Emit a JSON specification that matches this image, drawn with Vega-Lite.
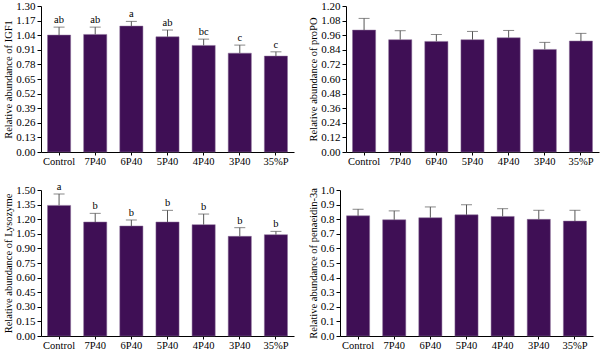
{
  "$schema": "https://vega.github.io/schema/vega-lite/v6.json",
  "padding": {"left": 3, "top": 0, "right": 2, "bottom": 0},
  "background": "white",
  "spacing": 14,
  "datasets": {
    "igf1": [
      {"group": "Control", "mean": 1.041, "upper": 1.112, "sig": "ab"},
      {"group": "7P40", "mean": 1.047, "upper": 1.112, "sig": "ab"},
      {"group": "6P40", "mean": 1.121, "upper": 1.163, "sig": "a"},
      {"group": "5P40", "mean": 1.026, "upper": 1.086, "sig": "ab"},
      {"group": "4P40", "mean": 0.949, "upper": 1.005, "sig": "bc"},
      {"group": "3P40", "mean": 0.880, "upper": 0.952, "sig": "c"},
      {"group": "35%P", "mean": 0.854, "upper": 0.892, "sig": "c"}
    ],
    "propo": [
      {"group": "Control", "mean": 1.002, "upper": 1.098, "sig": ""},
      {"group": "7P40", "mean": 0.923, "upper": 0.997, "sig": ""},
      {"group": "6P40", "mean": 0.909, "upper": 0.966, "sig": ""},
      {"group": "5P40", "mean": 0.923, "upper": 0.991, "sig": ""},
      {"group": "4P40", "mean": 0.939, "upper": 0.999, "sig": ""},
      {"group": "3P40", "mean": 0.843, "upper": 0.901, "sig": ""},
      {"group": "35%P", "mean": 0.912, "upper": 0.975, "sig": ""}
    ],
    "lyso": [
      {"group": "Control", "mean": 1.342, "upper": 1.459, "sig": "a"},
      {"group": "7P40", "mean": 1.171, "upper": 1.260, "sig": "b"},
      {"group": "6P40", "mean": 1.130, "upper": 1.192, "sig": "b"},
      {"group": "5P40", "mean": 1.171, "upper": 1.291, "sig": "b"},
      {"group": "4P40", "mean": 1.144, "upper": 1.253, "sig": "b"},
      {"group": "3P40", "mean": 1.024, "upper": 1.113, "sig": "b"},
      {"group": "35%P", "mean": 1.041, "upper": 1.075, "sig": "b"}
    ],
    "pen": [
      {"group": "Control", "mean": 0.823, "upper": 0.868, "sig": ""},
      {"group": "7P40", "mean": 0.796, "upper": 0.857, "sig": ""},
      {"group": "6P40", "mean": 0.810, "upper": 0.884, "sig": ""},
      {"group": "5P40", "mean": 0.830, "upper": 0.899, "sig": ""},
      {"group": "4P40", "mean": 0.819, "upper": 0.872, "sig": ""},
      {"group": "3P40", "mean": 0.799, "upper": 0.861, "sig": ""},
      {"group": "35%P", "mean": 0.787, "upper": 0.861, "sig": ""}
    ]
  },
  "config": {
    "view": {"stroke": null},
    "font": "Liberation Serif",
    "axis": {
      "labelFont": "Liberation Serif",
      "titleFont": "Liberation Serif",
      "titleFontSize": 10.5,
      "titleFontWeight": "normal",
      "labelColor": "#000",
      "titleColor": "#000",
      "domainColor": "#000",
      "tickColor": "#000",
      "labelOverlap": false,
      "grid": false
    },
    "axisX": {"tickSize": 3, "labelAngle": 0, "labelPadding": 1, "labelFontSize": 10.5, "title": null},
    "axisY": {"tickSize": 4, "titlePadding": 2, "labelPadding": 2, "labelFontSize": 11, "labelOverlap": false, "labelFlush": false}
  },
  "vconcat": [
    {
      "spacing": 14,
      "hconcat": [
        {
          "width": 253, "height": 146,
          "data": {"name": "igf1"},
          "encoding": {
            "x": {"field": "group", "type": "nominal", "sort": null, "scale": {"paddingInner": 0.36, "paddingOuter": 0.18}}
          },
          "layer": [
            {"mark": {"type": "bar", "color": "#3f0f55", "stroke": "#8a6f99", "strokeWidth": 0.5},
             "encoding": {"y": {"field": "mean", "type": "quantitative", "title": "Relative abundance of IGF1", "scale": {"domain": [0, 1.3], "nice": false}, "axis": {"values": [0, 0.13, 0.26, 0.39, 0.52, 0.65, 0.78, 0.91, 1.04, 1.17, 1.3], "format": ".2f"}}}},
            {"mark": {"type": "rule", "color": "#555", "strokeWidth": 1}, "encoding": {"y": {"field": "mean", "type": "quantitative", "title": "Relative abundance of IGF1", "axis": {"values": [0, 0.13, 0.26, 0.39, 0.52, 0.65, 0.78, 0.91, 1.04, 1.17, 1.3], "format": ".2f"}}, "y2": {"field": "upper"}}},
            {"mark": {"type": "tick", "color": "#555", "size": 11, "thickness": 1}, "encoding": {"y": {"field": "upper", "type": "quantitative", "title": "Relative abundance of IGF1", "axis": {"values": [0, 0.13, 0.26, 0.39, 0.52, 0.65, 0.78, 0.91, 1.04, 1.17, 1.3], "format": ".2f"}}}},
            {"mark": {"type": "text", "fontSize": 10.5, "dy": -7, "fill": "#000", "font": "Liberation Serif"}, "encoding": {"y": {"field": "upper", "type": "quantitative", "title": "Relative abundance of IGF1", "axis": {"values": [0, 0.13, 0.26, 0.39, 0.52, 0.65, 0.78, 0.91, 1.04, 1.17, 1.3], "format": ".2f"}}, "text": {"field": "sig"}}}
          ]
        },
        {
          "width": 253, "height": 146,
          "data": {"name": "propo"},
          "encoding": {
            "x": {"field": "group", "type": "nominal", "sort": null, "scale": {"paddingInner": 0.36, "paddingOuter": 0.18}}
          },
          "layer": [
            {"mark": {"type": "bar", "color": "#3f0f55", "stroke": "#8a6f99", "strokeWidth": 0.5},
             "encoding": {"y": {"field": "mean", "type": "quantitative", "title": "Relative abundance of proPO", "scale": {"domain": [0, 1.2], "nice": false}, "axis": {"values": [0, 0.12, 0.24, 0.36, 0.48, 0.6, 0.72, 0.84, 0.96, 1.08, 1.2], "format": ".2f"}}}},
            {"mark": {"type": "rule", "color": "#555", "strokeWidth": 1}, "encoding": {"y": {"field": "mean", "type": "quantitative", "title": "Relative abundance of proPO", "axis": {"values": [0, 0.12, 0.24, 0.36, 0.48, 0.6, 0.72, 0.84, 0.96, 1.08, 1.2], "format": ".2f"}}, "y2": {"field": "upper"}}},
            {"mark": {"type": "tick", "color": "#555", "size": 11, "thickness": 1}, "encoding": {"y": {"field": "upper", "type": "quantitative", "title": "Relative abundance of proPO", "axis": {"values": [0, 0.12, 0.24, 0.36, 0.48, 0.6, 0.72, 0.84, 0.96, 1.08, 1.2], "format": ".2f"}}}}
          ]
        }
      ]
    },
    {
      "spacing": 14,
      "hconcat": [
        {
          "width": 253, "height": 146,
          "data": {"name": "lyso"},
          "encoding": {
            "x": {"field": "group", "type": "nominal", "sort": null, "scale": {"paddingInner": 0.36, "paddingOuter": 0.18}}
          },
          "layer": [
            {"mark": {"type": "bar", "color": "#3f0f55", "stroke": "#8a6f99", "strokeWidth": 0.5},
             "encoding": {"y": {"field": "mean", "type": "quantitative", "title": "Relative abundance of Lysozyme", "scale": {"domain": [0, 1.5], "nice": false}, "axis": {"values": [0, 0.15, 0.3, 0.45, 0.6, 0.75, 0.9, 1.05, 1.2, 1.35, 1.5], "format": ".2f"}}}},
            {"mark": {"type": "rule", "color": "#555", "strokeWidth": 1}, "encoding": {"y": {"field": "mean", "type": "quantitative", "title": "Relative abundance of Lysozyme", "axis": {"values": [0, 0.15, 0.3, 0.45, 0.6, 0.75, 0.9, 1.05, 1.2, 1.35, 1.5], "format": ".2f"}}, "y2": {"field": "upper"}}},
            {"mark": {"type": "tick", "color": "#555", "size": 11, "thickness": 1}, "encoding": {"y": {"field": "upper", "type": "quantitative", "title": "Relative abundance of Lysozyme", "axis": {"values": [0, 0.15, 0.3, 0.45, 0.6, 0.75, 0.9, 1.05, 1.2, 1.35, 1.5], "format": ".2f"}}}},
            {"mark": {"type": "text", "fontSize": 10.5, "dy": -7, "fill": "#000", "font": "Liberation Serif"}, "encoding": {"y": {"field": "upper", "type": "quantitative", "title": "Relative abundance of Lysozyme", "axis": {"values": [0, 0.15, 0.3, 0.45, 0.6, 0.75, 0.9, 1.05, 1.2, 1.35, 1.5], "format": ".2f"}}, "text": {"field": "sig"}}}
          ]
        },
        {
          "width": 253, "height": 146,
          "data": {"name": "pen"},
          "encoding": {
            "x": {"field": "group", "type": "nominal", "sort": null, "scale": {"paddingInner": 0.36, "paddingOuter": 0.18}}
          },
          "layer": [
            {"mark": {"type": "bar", "color": "#3f0f55", "stroke": "#8a6f99", "strokeWidth": 0.5},
             "encoding": {"y": {"field": "mean", "type": "quantitative", "title": "Relative abundance of penaeidin-3a", "scale": {"domain": [0, 1.0], "nice": false}, "axis": {"values": [0, 0.1, 0.2, 0.3, 0.4, 0.5, 0.6, 0.7, 0.8, 0.9, 1.0], "format": ".1f"}}}},
            {"mark": {"type": "rule", "color": "#555", "strokeWidth": 1}, "encoding": {"y": {"field": "mean", "type": "quantitative", "title": "Relative abundance of penaeidin-3a", "axis": {"values": [0, 0.1, 0.2, 0.3, 0.4, 0.5, 0.6, 0.7, 0.8, 0.9, 1.0], "format": ".1f"}}, "y2": {"field": "upper"}}},
            {"mark": {"type": "tick", "color": "#555", "size": 11, "thickness": 1}, "encoding": {"y": {"field": "upper", "type": "quantitative", "title": "Relative abundance of penaeidin-3a", "axis": {"values": [0, 0.1, 0.2, 0.3, 0.4, 0.5, 0.6, 0.7, 0.8, 0.9, 1.0], "format": ".1f"}}}}
          ]
        }
      ]
    }
  ]
}
